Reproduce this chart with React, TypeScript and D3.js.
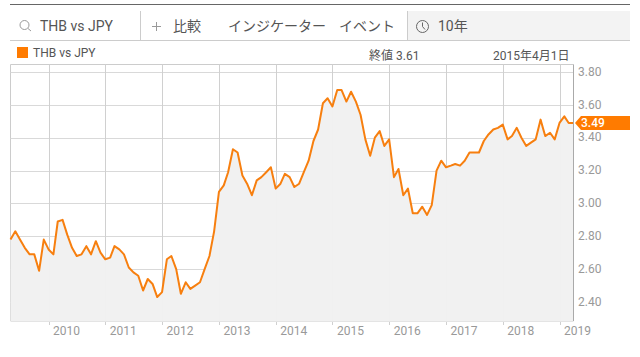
import React, { useEffect } from "react";
import * as d3 from "d3";

const startMonth = new Date(2009, 4, 1);
const closes = [
  2.78, 2.83, 2.78, 2.73, 2.69, 2.69, 2.59, 2.78,
  2.72, 2.69, 2.89, 2.90, 2.81, 2.73, 2.68, 2.69, 2.74, 2.69, 2.77, 2.70,
  2.66, 2.67, 2.74, 2.72, 2.69, 2.61, 2.58, 2.56, 2.47, 2.54, 2.51, 2.43,
  2.46, 2.66, 2.68, 2.60, 2.45, 2.52, 2.48, 2.50, 2.52, 2.60, 2.68, 2.83,
  3.07, 3.11, 3.19, 3.33, 3.31, 3.17, 3.12, 3.05, 3.14, 3.16, 3.19, 3.22,
  3.09, 3.12, 3.18, 3.16, 3.10, 3.12, 3.19, 3.26, 3.38, 3.45, 3.61, 3.64,
  3.59, 3.69, 3.69, 3.62, 3.68, 3.62, 3.54, 3.39, 3.29, 3.40, 3.44, 3.35,
  3.39, 3.16, 3.21, 3.05, 3.09, 2.94, 2.94, 2.98, 2.93, 2.99, 3.20, 3.26,
  3.22, 3.23, 3.24, 3.23, 3.26, 3.31, 3.31, 3.31, 3.38, 3.42, 3.45, 3.46,
  3.48, 3.39, 3.41, 3.46, 3.40, 3.35, 3.37, 3.39, 3.51, 3.41, 3.43, 3.39,
  3.49, 3.53, 3.49, 3.49,
];
const yTicks = [2.4, 2.6, 2.8, 3.0, 3.2, 3.4, 3.6, 3.8];
const xYears = [2010, 2011, 2012, 2013, 2014, 2015, 2016, 2017, 2018, 2019];
const lastValue = 3.49;
const symbolLabel = "THB vs JPY";
const closeLabel = "終値 3.61";
const dateLabel = "2015年4月1日";
const toolbarLabels = ["比較", "インジケーター", "イベント", "10年"];

const SANS = "Roboto, 'Noto Sans CJK JP', sans-serif";

export default function App() {
  useEffect(() => {
    document.body.style.margin = "0";
    document.body.style.background = "#fff";
  }, []);

  const left = 10.5, right = 573.5, top = 64.5, bottom = 321;
  const x = d3.scaleTime()
    .domain([startMonth, d3.timeMonth.offset(startMonth, closes.length - 1)])
    .range([left, right]);
  const y = d3.scaleLinear().domain([2.4, 3.8]).range([302.0, 72.0]);
  const dates = closes.map((_, i) => d3.timeMonth.offset(startMonth, i));
  const pts = closes.map((v, i) => ({ d: dates[i], v }));
  const line = d3.line<{ d: Date; v: number }>().x(p => x(p.d)).y(p => y(p.v));
  const area = d3.area<{ d: Date; v: number }>().x(p => x(p.d)).y0(bottom).y1(p => y(p.v));
  const ly = y(lastValue);

  return (
    <svg width={640} height={357} style={{ display: "block", position: "absolute", left: 0, top: 0 }} fontFamily={SANS}>
      <rect width={640} height={357} fill="#fff" />
      {/* toolbar */}
      <line x1={10} x2={630} y1={4.5} y2={4.5} stroke="#666" strokeWidth={1} />
      <rect x={408} y={11} width={222} height={29} fill="#f3f3f3" />
      <line x1={10} x2={630} y1={40.5} y2={40.5} stroke="#ccc" />
      <line x1={140.5} x2={140.5} y1={11} y2={40} stroke="#ccc" />
      <line x1={407.5} x2={407.5} y1={11} y2={40} stroke="#ccc" />
      <g fill="none" stroke="#999" strokeWidth={1}>
        <circle cx={24.5} cy={25} r={4.5} />
        <line x1={28} y1={28.5} x2={31} y2={31} />
      </g>
      <text x={40} y={31} fontSize={14} fill="#555">{symbolLabel}</text>
      <g stroke="#999" strokeWidth={1}>
        <line x1={152} x2={161} y1={26.5} y2={26.5} />
        <line x1={156.5} x2={156.5} y1={22} y2={31} />
      </g>
      <text x={173} y={31} fontSize={14} fill="#555">{toolbarLabels[0]}</text>
      <text x={228} y={31} fontSize={14} fill="#555">{toolbarLabels[1]}</text>
      <text x={339} y={31} fontSize={14} fill="#555">{toolbarLabels[2]}</text>
      <g fill="none" stroke="#666" strokeWidth={1}>
        <circle cx={422.5} cy={26.5} r={6} />
        <path d="M422.5 22.5V26.5L425 29.5" />
      </g>
      <text x={438} y={31} fontSize={14} fill="#555">{toolbarLabels[3]}</text>

      {/* legend */}
      <rect x={17} y={47} width={11} height={11} fill="#ff7b00" />
      <text x={33} y={57} fontSize={12} fill="#555">{symbolLabel}</text>
      <text x={369} y={60} fontSize={12} fill="#555">{closeLabel}</text>
      <text x={493} y={60} fontSize={12} fill="#555">{dateLabel}</text>

      {/* grid */}
      <line x1={left} x2={right} y1={top} y2={top} stroke="#ccc" />
      <line x1={left} x2={left} y1={top} y2={bottom} stroke="#ccc" />
      {yTicks.map(t => (
        <line key={t} x1={left} x2={right} y1={Math.round(y(t)) + 0.5} y2={Math.round(y(t)) + 0.5} stroke="#d9d9d9" />
      ))}
      {xYears.map(yr => {
        const px = Math.round(x(new Date(yr, 0, 1))) + 0.5;
        return <line key={yr} x1={px} x2={px} y1={top} y2={bottom + 4} stroke="#d0d0d0" />;
      })}

      {/* series */}
      <path d={area(pts) ?? ""} fill="#f1f1f1" fillOpacity={0.98} />
      <path d={line(pts) ?? ""} fill="none" stroke="#f77f0f" strokeWidth={2} strokeLinejoin="round" />

      {/* axes */}
      <line x1={right} x2={right} y1={top} y2={bottom} stroke="#aaa" />
      <line x1={left} x2={right} y1={bottom + 0.5} y2={bottom + 0.5} stroke="#e4e4e4" />
      {yTicks.map(t => (
        <text key={t} x={578} y={y(t) + 3.7} fontSize={12} fill="#999">{t.toFixed(2)}</text>
      ))}
      {xYears.map(yr => (
        <text key={yr} x={x(new Date(yr, 0, 1)) + 18} y={335} fontSize={12} fill="#999" textAnchor="middle">{yr}</text>
      ))}

      {/* last value tag */}
      <path d={`M575 ${ly}L581 ${ly - 7}H630V${ly + 7}H581Z`} fill="#ff7b00" />
      <text x={581} y={ly + 4} fontSize={12} fontWeight={500} fill="#fff">{lastValue.toFixed(2)}</text>
    </svg>
  );
}
